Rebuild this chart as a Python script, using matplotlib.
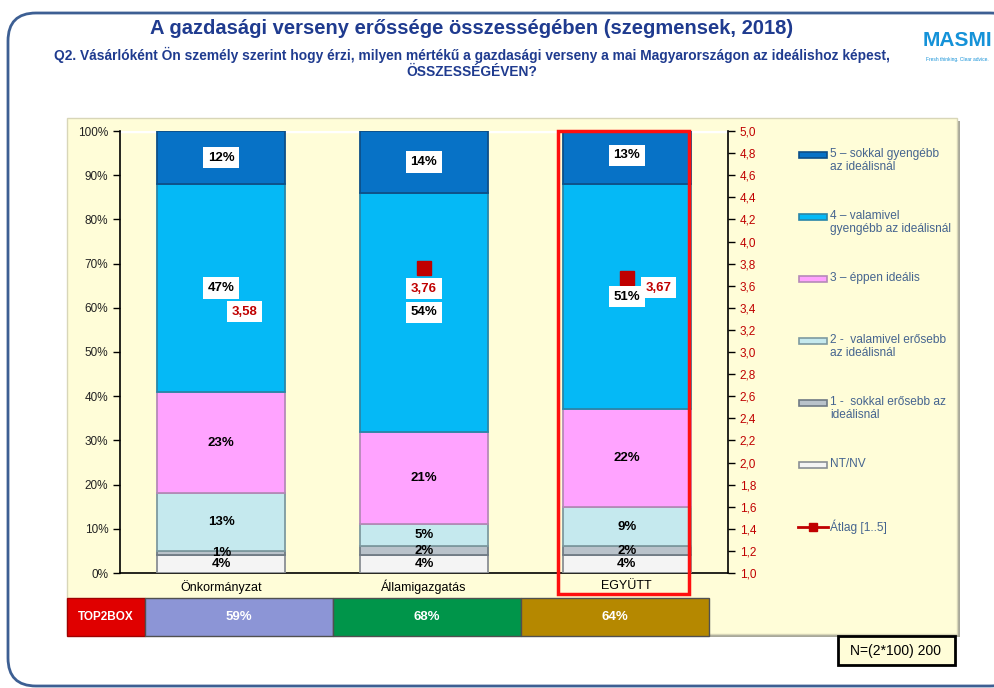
import numpy as np
import matplotlib
matplotlib.use('Agg')
from matplotlib import pyplot as plt
from matplotlib.patches import Rectangle, FancyBboxPatch
from matplotlib.lines import Line2D

# data
categories = ['Önkormányzat', 'Államigazgatás', 'EGYÜTT']
series_names = ['NT/NV', '1 -  sokkal erősebb az\nideálisnál', '2 -  valamivel erősebb\naz ideálisnál',
                '3 – éppen ideális', '4 – valamivel\ngyengébb az ideálisnál', '5 – sokkal gyengébb\naz ideálisnál']
nt_nv = [4, 4, 4]
s1 = [1, 2, 2]
s2 = [13, 5, 9]
s3 = [23, 21, 22]
s4 = [47, 54, 51]
s5 = [12, 14, 13]
means = [3.58, 3.76, 3.67]
top2box = [59, 68, 64]
top2box_colors = ['#8c95d6', '#00954a', '#b58800']

series = [nt_nv, s1, s2, s3, s4, s5]
colors = ['#f4f4f4', '#b9c2ca', '#c5e9ee', '#ffa3ff', '#05b9f6', '#0772c6']
edges = ['#8a8f94', '#6f7a84', '#7e9aa0', '#b58ab8', '#2a86a8', '#0d4f88']

W, H = 995, 688
TITLE_BLUE = '#1f3b8f'
FONT = ['Liberation Sans', 'DejaVu Sans']


def px_rect(x0, y0, x1, y1):
    return [x0 / W, 1 - y1 / H, (x1 - x0) / W, (y1 - y0) / H]


fig = plt.figure(figsize=(W / 100, H / 100), dpi=100)

# background layer (pixel coordinates)
bg = fig.add_axes([0, 0, 1, 1], zorder=0)
bg.set_xlim(0, W)
bg.set_ylim(H, 0)
bg.axis('off')
bg.add_patch(FancyBboxPatch((8, 13), 1010, 673, boxstyle='round,pad=0,rounding_size=28',
                            fc='white', ec='#3d5f93', lw=2))
bg.add_patch(Rectangle((70, 121), 890, 516, fc='#a8a89a', ec='none'))
bg.add_patch(Rectangle((67, 118), 890, 516, fc='#fffdd8', ec='#d8d6b8', lw=1))

fig.text(472 / W, 1 - 28 / H, 'A gazdasági verseny erőssége összességében (szegmensek, 2018)',
         ha='center', va='center', fontsize=14.5, fontweight='bold', color=TITLE_BLUE, family=FONT)
fig.text(472 / W, 1 - 55 / H,
         'Q2. Vásárlóként Ön személy szerint hogy érzi, milyen mértékű a gazdasági verseny a mai Magyarországon az ideálishoz képest,',
         ha='center', va='center', fontsize=9.9, fontweight='bold', color=TITLE_BLUE, family=FONT)
fig.text(472 / W, 1 - 72 / H, 'ÖSSZESSÉGÉVEN?',
         ha='center', va='center', fontsize=9.9, fontweight='bold', color=TITLE_BLUE, family=FONT)
# logo
fig.text(957 / W, 1 - 41 / H, 'MASMI', ha='center', va='center', fontsize=15, fontweight='bold',
         color='#1592d8', family=FONT)
fig.text(957 / W, 1 - 60 / H, 'Fresh thinking. Clear advice.', ha='center', va='center', fontsize=3.5,
         color='#1592d8', family=FONT)

# main chart
ax = fig.add_axes(px_rect(120, 131, 728, 573), zorder=2)
ax.set_facecolor('none')
x = np.arange(len(categories))
width = 0.63
bottom = np.zeros(len(categories))
for vals, col, ec in zip(series, colors, edges):
    v = np.array(vals) / 100.0
    ax.bar(x, v, width, bottom=bottom, color=col, edgecolor=ec, linewidth=1.3, zorder=3)
    bottom = bottom + v
ax.axhline(1.0, color='white', lw=2.5, zorder=1)

ax.set_xlim(-0.5, 2.5)
ax.set_ylim(0, 1)
ax.set_yticks(np.arange(0, 1.01, 0.1))
ax.set_yticklabels(['%d%%' % round(v * 100) for v in np.arange(0, 1.01, 0.1)])
ax.set_xticks(x)
ax.set_xticklabels(categories)
ax.tick_params(axis='x', length=0, labelsize=9, pad=5)
ax.tick_params(axis='y', length=5, width=1, labelsize=8.5, labelcolor='#222222', direction='out')
for lab in ax.get_xticklabels() + ax.get_yticklabels():
    lab.set_family(FONT)
ax.spines['top'].set_visible(False)
ax.spines['right'].set_visible(False)
ax.spines['left'].set_linewidth(1.2)
ax.spines['bottom'].set_linewidth(1.2)

ax2 = ax.twinx()
ax2.set_ylim(1, 5)
rt = np.arange(1.0, 5.001, 0.2)
ax2.set_yticks(rt)
ax2.set_yticklabels([('%.1f' % v).replace('.', ',') for v in rt])
ax2.tick_params(axis='y', length=5, width=1, labelsize=8.5, labelcolor='#c00000', direction='out')
for lab in ax2.get_yticklabels():
    lab.set_family(FONT)
for s in ['top', 'left', 'bottom']:
    ax2.spines[s].set_visible(False)
ax2.spines['right'].set_linewidth(1.2)

ax2.plot(x, means, linestyle='none', marker='s', markersize=10, color='#c00000', zorder=4)

# segment labels
bottom = np.zeros(len(categories))
for k, vals in enumerate(series):
    for i, v in enumerate(vals):
        yc = (bottom[i] + v / 2.0) / 100.0
        if k >= 4:
            box = dict(boxstyle='square,pad=0.35', fc='white', ec='none')
        else:
            box = None
        ax2.text(x[i], yc, '%d%%' % v, transform=ax.transData, ha='center', va='center',
                 fontsize=9.5, fontweight='bold', color='black', family=FONT, bbox=box, zorder=6)
    bottom = bottom + np.array(vals)

# mean labels
mean_offsets = [(17, -17), (0, -15), (23, -7)]
for i, m in enumerate(means):
    ax2.annotate(('%.2f' % m).replace('.', ','), (x[i], m), xytext=mean_offsets[i],
                 textcoords='offset points', ha='center', va='center', fontsize=9.5,
                 fontweight='bold', color='#c00000', family=FONT, zorder=7,
                 bbox=dict(boxstyle='square,pad=0.35', fc='white', ec='none'))

# highlight
ax.add_patch(Rectangle((2 - 0.34, -0.048), 0.65, 1.048, fill=False, ec='#ff0f0f', lw=2.5,
                       clip_on=False, zorder=8))

# front layer: legend, top2box row, N box
front = fig.add_axes([0, 0, 1, 1], zorder=5)
front.set_xlim(0, W)
front.set_ylim(H, 0)
front.axis('off')
front.patch.set_alpha(0)

legend_idx = [5, 4, 3, 2, 1, 0]
for j, k in enumerate(legend_idx):
    y = 155 + j * 62
    front.add_patch(Rectangle((799, y - 3), 28, 6, fc=colors[k], ec=edges[k], lw=1.2))
    front.text(830, y - 7, series_names[k], ha='left', va='top', fontsize=8.6, color='#45648f',
               family=FONT, linespacing=1.1)
y = 155 + 6 * 62
front.add_line(Line2D([798, 828], [y, y], color='#c00000', lw=2))
front.plot([813], [y], marker='s', markersize=6, color='#c00000')
front.text(830, y - 7, 'Átlag [1..5]', ha='left', va='top', fontsize=8.6, color='#45648f', family=FONT)

front.add_patch(Rectangle((67, 598), 78, 38, fc='#e00000', ec='#a00000', lw=1))
front.text(106, 617, 'TOP2BOX', ha='center', va='center', fontsize=8.5, fontweight='bold',
           color='white', family=FONT)
for i, (v, c) in enumerate(zip(top2box, top2box_colors)):
    x0 = 145 + i * 188
    front.add_patch(Rectangle((x0, 598), 188, 38, fc=c, ec='#505050', lw=1))
    front.text(x0 + 94, 617, '%d%%' % v, ha='center', va='center', fontsize=9.5, fontweight='bold',
               color='white', family=FONT)

front.add_patch(Rectangle((838, 636), 117, 29, fc='#fffdd8', ec='black', lw=2))
front.text(896, 651, 'N=(2*100) 200', ha='center', va='center', fontsize=10, color='black', family=FONT)

fig.savefig('out.png', dpi=100)
